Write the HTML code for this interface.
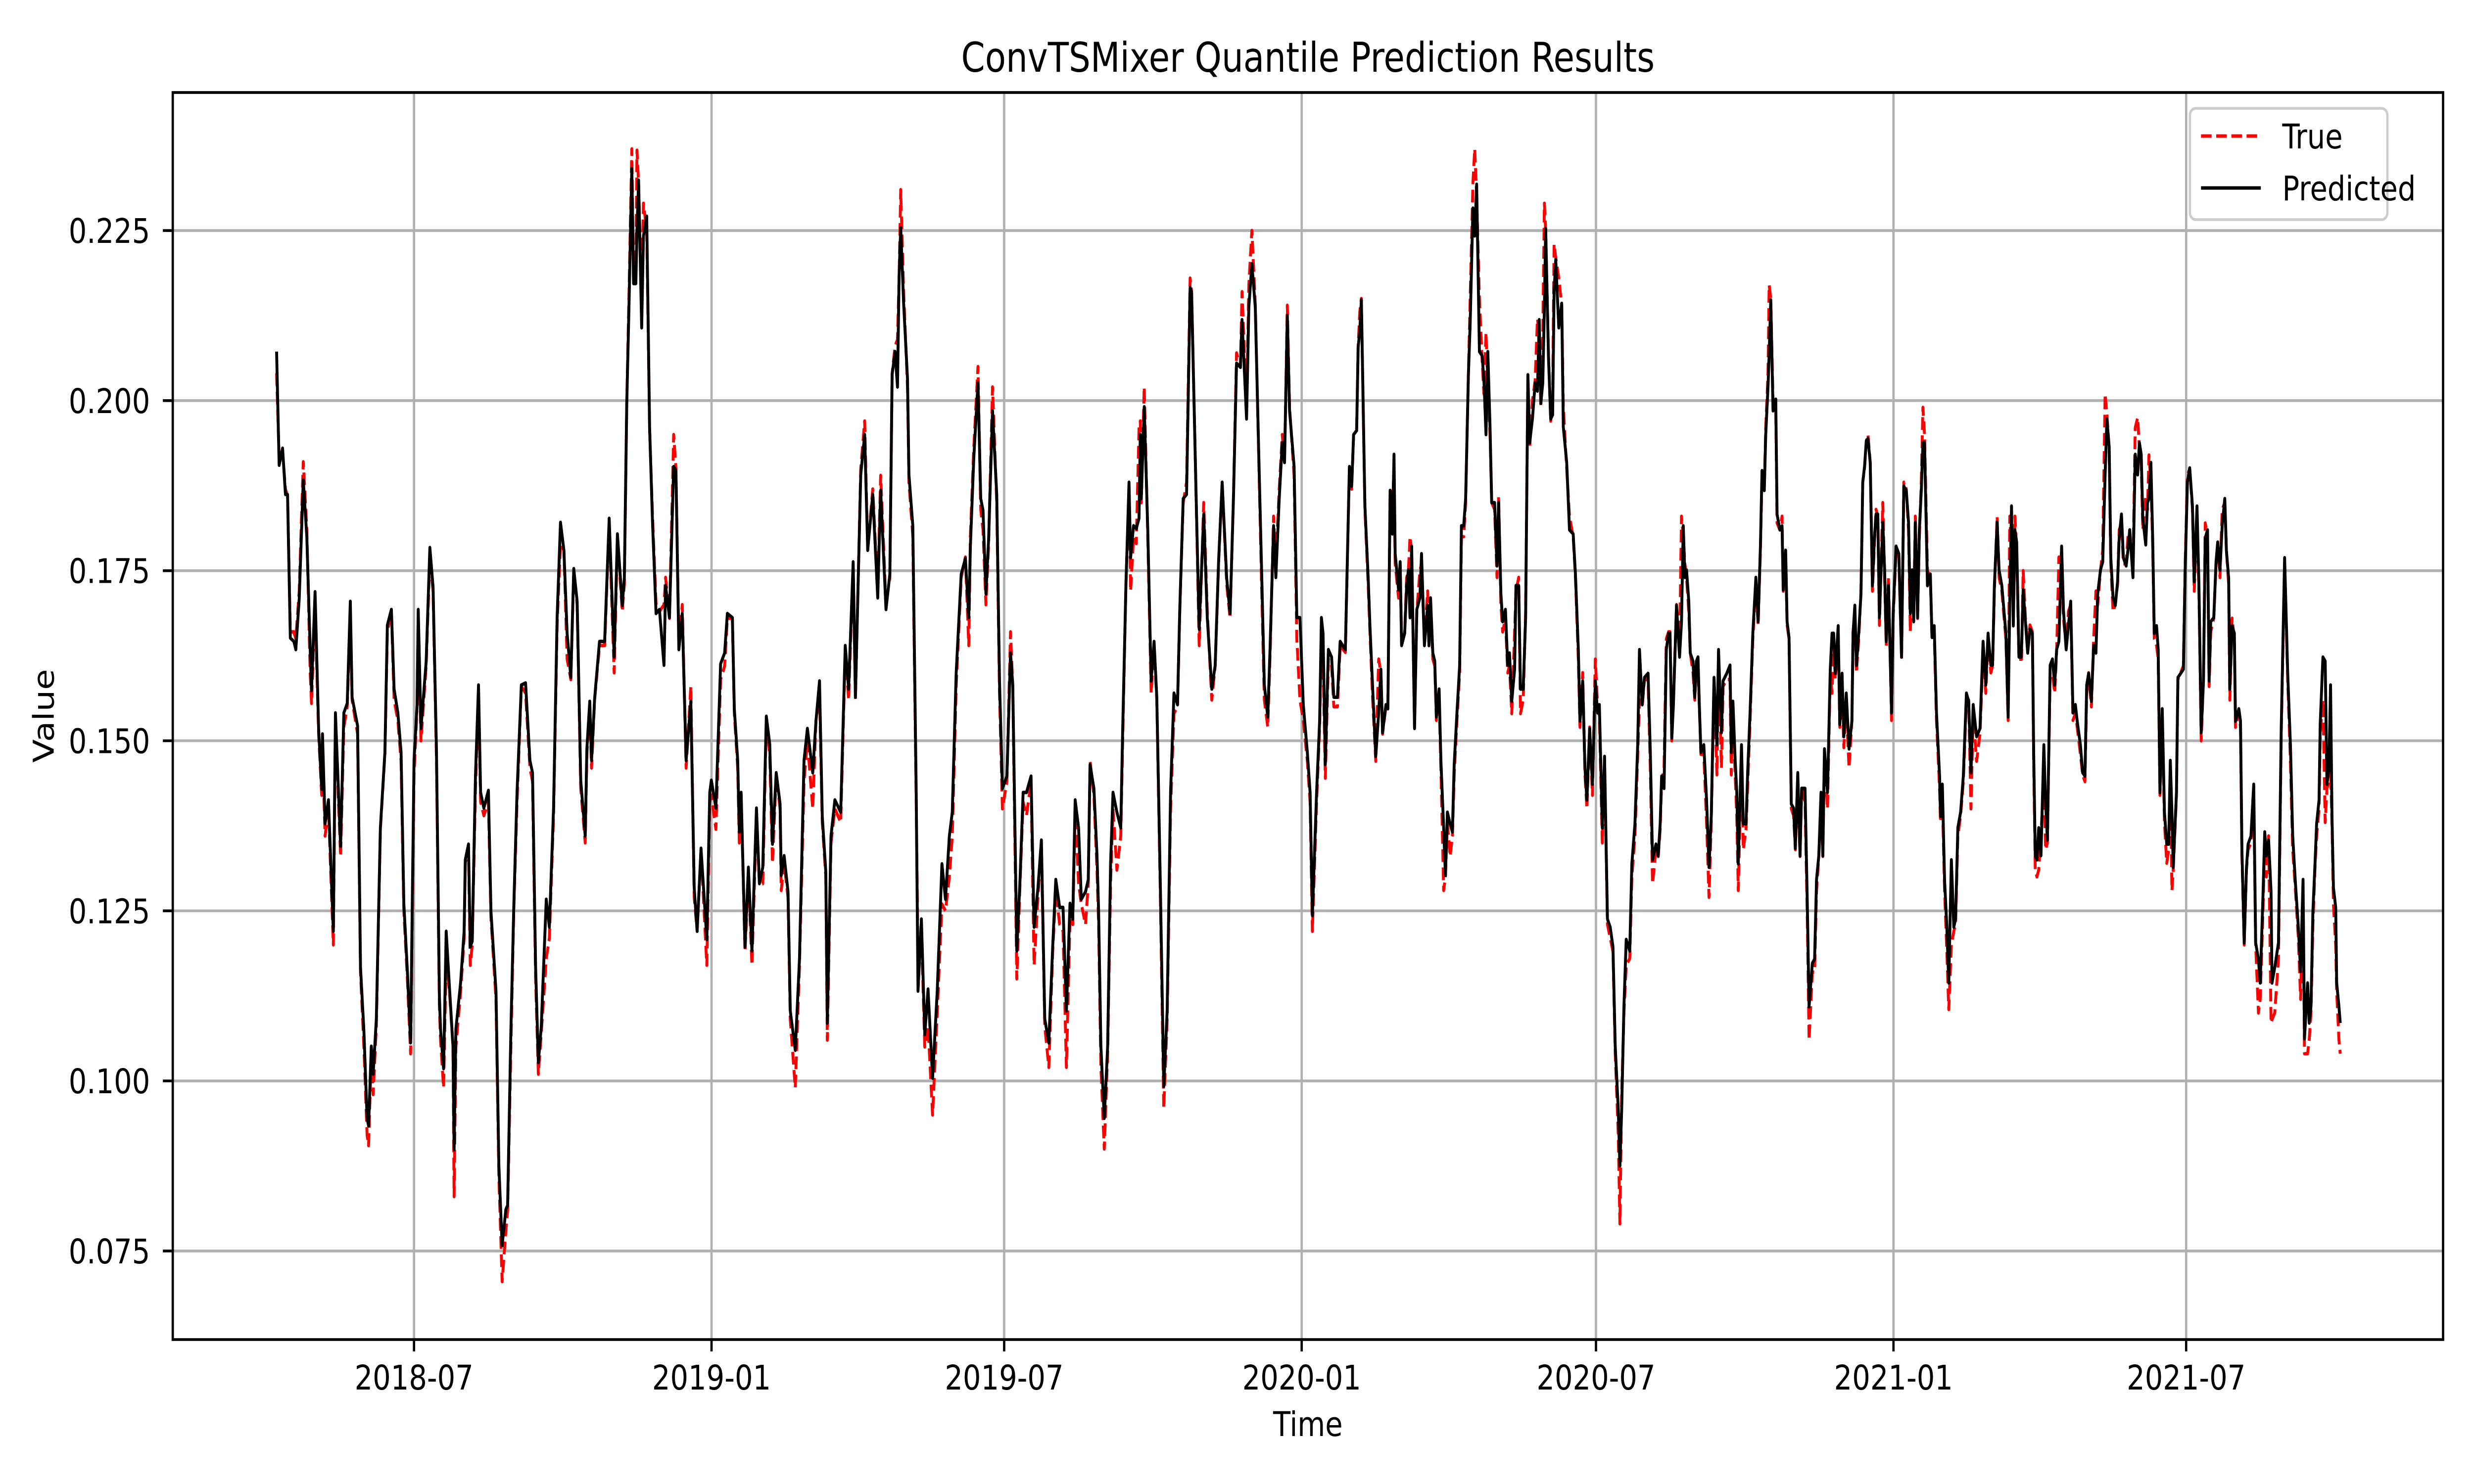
<!DOCTYPE html>
<html><head><meta charset="utf-8">
<style>
html,body{margin:0;padding:0;background:#fff;width:100%;height:100%;overflow:hidden;}
svg{display:block;width:100vw;height:100vh;font-family:"DejaVu Sans","Liberation Sans",sans-serif;}
</style></head>
<body>
<svg id="chart" xmlns="http://www.w3.org/2000/svg" viewBox="0 0 6000 3000" preserveAspectRatio="none">
<rect x="0" y="0" width="6000" height="3000" fill="#fff"/>
<defs><clipPath id="plotclip"><rect x="419" y="187" width="5506" height="2521"/></clipPath></defs>
<g id="grid"></g>
<g id="series" clip-path="url(#plotclip)"></g>
<rect x="419" y="187" width="5506" height="2521" fill="none" stroke="#000" stroke-width="5.6"/>
<g id="ticks"></g>
<text x="3172" y="145" font-size="83" text-anchor="middle">ConvTSMixer Quantile Prediction Results</text>
<text x="3172" y="2903" font-size="69" text-anchor="middle">Time</text>
<text x="0" y="0" font-size="69" text-anchor="middle" transform="translate(130,1447) rotate(-90)">Value</text>
<g>
<rect x="5311" y="219" width="479" height="225" rx="14" fill="#fff" fill-opacity="0.8" stroke="#cccccc" stroke-width="5.6"/>
<line x1="5338" y1="275" x2="5483" y2="275" stroke="#ff0000" stroke-width="7" stroke-dasharray="25.7,11.1"/>
<text x="5535" y="300" font-size="69">True</text>
<line x1="5338" y1="380" x2="5483" y2="380" stroke="#000" stroke-width="7"/>
<text x="5535" y="405" font-size="69">Predicted</text>
</g>
</svg>
<script>
// days offset from 2018-04-07
const startDate = "2018-04-07";
const xTickLabels = ["2018-07","2019-01","2019-07","2020-01","2020-07","2021-01","2021-07"];
const yTickValues = [0.075,0.100,0.125,0.150,0.175,0.200,0.225];

const daysA = [0,1.6,3.7,5.5,6.8,8.5,10.7,11.9,14,16.5,18.7,20.8,21.6,23.8,26,27.9,28.4,30,32.1,35.1,36.4,39.6,41.6,43.7,45.6,46.7,50.1,51.9,54,56,56.9,58.6,59.7,61.7,64.2,67,68.5,71,72.7,75,77,78.7,80.9,82.9,85,86.9,87.6,89.3,92.5,94.8,96.8,98.9,100.7,101.4,103.3,104.9,107,109.1,109.8,110.9,113.8,116,116.7,118.7,119.8,121,123,124.9,126.2,128.2,131,132.6,135.7,137.5,139.5,141.8,142.9,144.9,146.7,148.7,151.4,154,156.7,158.3,160.2,161.9,163.7,166.8,168.7,171.3,173.5,175.6,177.7,179.7,182,183.8,185.9,188.1,190.9,191.9,193.7,194.8,196.7,199.7,202.9,205.7,208.8,210.8,213.8];
const predA = [.2072,.1905,.1930,.1862,.1862,.1651,.1646,.1634,.1709,.1883,.1800,.1634,.1574,.1719,.1518,.1429,.1510,.1378,.1413,.1220,.1541,.1345,.1541,.1555,.1705,.1564,.1522,.1167,.1074,.0945,.0934,.1051,.1010,.1091,.1372,.1483,.1670,.1693,.1576,.1541,.1483,.1261,.1161,.1056,.1471,.1553,.1693,.1518,.1616,.1784,.1726,.1483,.1126,.1076,.1018,.1220,.1135,.1051,.0899,.1076,.1144,.1220,.1325,.1348,.1197,.1205,.1448,.1582,.1424,.1401,.1427,.1249,.1132,.0875,.0758,.0811,.0817,.1074,.1255,.1424,.1582,.1585,.1471,.1453,.1167,.1027,.1080,.1267,.1226,.1401,.1681,.1821,.1780,.1658,.1593,.1753,.1705,.1442,.1360,.1488,.1558,.1471,.1562,.1646,.1646,.1827,.1623,.1804,.1699];
const trueA = [.2040,.1915,.1925,.1870,.1860,.1660,.1660,.1650,.1720,.1910,.1810,.1600,.1555,.1700,.1510,.1420,.1490,.1360,.1400,.1200,.1530,.1330,.1520,.1550,.1680,.1560,.1510,.1160,.1050,.0920,.0905,.1040,.0980,.1080,.1370,.1480,.1660,.1690,.1560,.1530,.1470,.1250,.1150,.1040,.1450,.1550,.1690,.1500,.1610,.1770,.1720,.1470,.1110,.1060,.0990,.1180,.1130,.1050,.0830,.1050,.1130,.1210,.1320,.1340,.1170,.1200,.1430,.1570,.1410,.1390,.1410,.1240,.1120,.0860,.0705,.0780,.0810,.1050,.1250,.1410,.1580,.1570,.1460,.1440,.1150,.1010,.1070,.1180,.1210,.1390,.1670,.1790,.1780,.1620,.1590,.1750,.1700,.1430,.1350,.1480,.1550,.1460,.1560,.1640,.1640,.1820,.1600,.1800,.1690];

const daysB = [215.1,216.6,218,219.7,220.8,222.2,222.9,223.9,225.8,226.9,228.9,230.7,232.5,234.7,236.8,239.6,240.6,243,245.6,247,248.8,250.9,253.3,256.2,258.3,260.1,262.5,266.1,267.9,268.9,271.7,274.6,277.1,278.8,281.9,283.1,285.2,286.2,287.3,289.7,291.8,294,296.8,298.6,300.7,302.9,305,306.7,309,311.4,312.1,313.9,316.3,317.7,320.8,323.4,326.2,328.3,331.6,333.6,335.8,337.5,339.7,340.6,342.9,345.3,348.9,351.7,353.8,356.6,358,361.3,363.7,365.6,368.7,371.8,373.6,376.9,379.3,380.7,382.5,384,385,386,387.8,390.2,391.1,393.5,395.6,396.7,398.8,400.9,402.9,405.7,408.6,411.5,413.7,416.1,417.9,420.3,423.4,426,428.1];
const predB = [.1740,.1997,.2143,.2341,.2172,.2172,.2250,.2324,.2107,.2242,.2271,.1961,.1821,.1687,.1693,.1611,.1728,.1681,.1903,.1897,.1634,.1687,.1471,.1558,.1284,.1220,.1342,.1208,.1424,.1442,.1401,.1613,.1629,.1687,.1681,.1547,.1471,.1366,.1424,.1197,.1314,.1191,.1401,.1290,.1314,.1536,.1495,.1348,.1453,.1407,.1302,.1331,.1278,.1103,.1045,.1179,.1471,.1518,.1453,.1529,.1588,.1389,.1307,.1085,.1360,.1413,.1395,.1640,.1576,.1763,.1564,.1891,.1950,.1780,.1862,.1710,.1868,.1693,.1745,.2038,.2072,.2020,.2183,.2254,.2143,.2032,.1891,.1816,.1424,.1132,.1238,.1068,.1135,.1004,.1132,.1319,.1267,.1360,.1395,.1599,.1745,.1768,.1681];
const trueB = [.1730,.2000,.2160,.2370,.2170,.2200,.2368,.2320,.2150,.2290,.2250,.1960,.1830,.1700,.1690,.1700,.1740,.1680,.1950,.1900,.1640,.1700,.1460,.1580,.1270,.1220,.1340,.1170,.1410,.1420,.1370,.1590,.1610,.1680,.1680,.1540,.1460,.1350,.1420,.1190,.1300,.1170,.1390,.1290,.1290,.1530,.1480,.1320,.1450,.1400,.1280,.1320,.1270,.1090,.0990,.1170,.1440,.1500,.1400,.1530,.1570,.1380,.1300,.1060,.1350,.1400,.1380,.1630,.1560,.1760,.1560,.1900,.1970,.1780,.1870,.1720,.1890,.1700,.1740,.2040,.2080,.2090,.2180,.2310,.2160,.2020,.1880,.1800,.1410,.1180,.1220,.1050,.1080,.0950,.1100,.1260,.1250,.1300,.1360,.1580,.1740,.1770,.1640];

const daysC = [429.1,431.2,433.8,435.5,436.9,438.7,440.4,442.8,445.4,447.1,448.9,451.7,453.9,455.3,457.8,459.8,461.7,463.8,466.6,468.5,470.9,473,475.1,477.6,480,481.9,484.3,486.4,488.5,490.7,492.4,493.9,496,497.7,500.3,502,503.1,505.5,507.4,508.4,509.8,511.9,514,515.8,517.3,519.7,522.1,523.2,525.3,527.2,528.2,530,531.7,533.4,534.2,534.8,536.6,538.8,540.9,542.7,544.4,546.6,548.7,550.8,552.9,555,557.2,558.6,560.7,562.8,565,565.9,568.5,570.6,573.4,575.6,578.4,580.5,582.6,584.8,587.6,589.7,591.8,593.7,596.1,597.1,599.9,601.3,603.2,605.3,607.4,609.5,610.9,613,614.5,616.6,618,620.1,622,623.4,625.1,626.5,629.3,631,632.9,635,637.5,639.2,640.6,643.2];
const predC = [.1786,.1915,.2026,.1856,.1839,.1716,.1798,.1985,.1862,.1588,.1430,.1448,.1629,.1582,.1191,.1296,.1424,.1424,.1448,.1226,.1284,.1354,.1091,.1056,.1197,.1296,.1255,.1255,.1103,.1261,.1238,.1413,.1372,.1267,.1278,.1296,.1465,.1430,.1331,.1249,.1051,.0945,.1051,.1319,.1424,.1395,.1372,.1506,.1728,.1880,.1769,.1816,.1812,.1827,.1950,.1856,.1991,.1810,.1588,.1646,.1564,.1284,.0992,.1103,.1424,.1570,.1553,.1693,.1856,.1862,.2166,.2160,.1880,.1664,.1833,.1681,.1576,.1611,.1763,.1880,.1739,.1687,.1856,.2055,.2049,.2119,.1973,.2137,.2201,.2137,.1926,.1722,.1582,.1535,.1640,.1816,.1740,.1856,.1938,.1909,.2125,.1985,.1903,.1681,.1681,.1553,.1483,.1424,.1243,.1424];
const trueC = [.1800,.1930,.2050,.1840,.1810,.1700,.1790,.2020,.1850,.1570,.1400,.1440,.1660,.1580,.1150,.1290,.1410,.1390,.1440,.1170,.1270,.1350,.1080,.1020,.1190,.1280,.1230,.1220,.1020,.1240,.1230,.1400,.1290,.1260,.1230,.1290,.1470,.1420,.1310,.1230,.1020,.0900,.1040,.1290,.1400,.1310,.1360,.1490,.1730,.1870,.1720,.1800,.1790,.1960,.1970,.1850,.2020,.1800,.1570,.1640,.1560,.1270,.0960,.1090,.1400,.1540,.1550,.1690,.1850,.1880,.2180,.2160,.1880,.1640,.1850,.1690,.1560,.1610,.1760,.1880,.1730,.1680,.1860,.2070,.2050,.2160,.1990,.2170,.2250,.2140,.1920,.1700,.1560,.1520,.1630,.1830,.1760,.1870,.1950,.1910,.2140,.1990,.1890,.1650,.1560,.1530,.1470,.1410,.1220,.1410];

const daysD = [645.1,646.2,647.2,648.6,650.5,652.5,653.9,656.1,657.8,661,663.5,664.9,666.1,668,668.9,669.9,670.9,673.1,675.1,676.2,677.9,679.8,681.6,683,684,686.1,687.3,688.7,690.1,691.1,691.8,693.9,694.9,695.8,697.7,698.9,700,701,702,703.8,705.2,707.1,708.1,709.9,711.9,712.7,713.7,715.1,716.3,717.3,719,720.1,721.8,722.9,724.1,725.8,727.2,728.3,730,731.7,732.8,734.2,735.4,737.1,738.2,739.9,741,742.2,743.9,745.6,746.7,748,749.1,750.5,751.5,753.3,754.8,755.8,757.2,758.3,760,761.4,762.5,763.9,765.7,766.5,768.2,769.3,771,772.5,773.9,775,776.7,778.4,779.8,780.9,781.9,783.1,784.1,784.9,786.6,788,789.2,790.1,791.1,793,794.8,795.8,797.9,799.6,801.9,803.3,805.1,806.1,807.8,809.2,810.4,812.1,813.8,815.6,817,818.1,819.9,821.3,823.1,824.8,826.5,827.9,829.8,830.8,831.9,833.3,834.7,836.9,838.2,840.1,841.8,842.9,844.6,846,848.2,849.6,851,853.1,854.5,855.7,856.6,858.1,859.5,860.9];
const predD = [.1529,.1681,.1658,.1465,.1634,.1623,.1564,.1564,.1646,.1634,.1903,.1874,.1950,.1956,.2078,.2102,.2148,.1845,.1740,.1669,.1576,.1477,.1541,.1605,.1512,.1553,.1547,.1868,.1804,.1921,.1775,.1722,.1763,.1640,.1658,.1728,.1751,.1681,.1786,.1518,.1693,.1710,.1775,.1640,.1699,.1640,.1710,.1629,.1617,.1535,.1576,.1471,.1372,.1302,.1395,.1378,.1366,.1465,.1541,.1611,.1816,.1816,.1856,.2038,.2113,.2283,.2242,.2318,.2072,.2066,.2031,.1950,.2072,.1961,.1850,.1850,.1757,.1850,.1716,.1675,.1693,.1611,.1629,.1558,.1605,.1728,.1728,.1576,.1576,.1681,.2038,.1938,.1973,.2026,.2014,.2119,.1996,.2026,.2137,.2253,.2066,.1973,.1979,.2160,.2207,.2107,.2143,.1961,.1909,.1810,.1804,.1745,.1634,.1529,.1588,.1460,.1413,.1518,.1436,.1588,.1541,.1553,.1372,.1477,.1238,.1226,.1197,.1051,.0957,.0875,.0957,.1109,.1208,.1191,.1319,.1378,.1494,.1634,.1553,.1593,.1599,.1483,.1325,.1348,.1331,.1378,.1448,.1430,.1634,.1658];
const trueD = [.1520,.1660,.1620,.1445,.1620,.1610,.1550,.1550,.1640,.1630,.1900,.1870,.1950,.1960,.2080,.2130,.2150,.1840,.1730,.1660,.1560,.1470,.1620,.1600,.1510,.1550,.1550,.1870,.1840,.1900,.1760,.1710,.1760,.1640,.1660,.1740,.1750,.1800,.1780,.1520,.1690,.1750,.1760,.1650,.1720,.1640,.1700,.1620,.1610,.1530,.1560,.1460,.1280,.1300,.1380,.1330,.1360,.1450,.1530,.1600,.1800,.1800,.1850,.2040,.2150,.2320,.2370,.2300,.2150,.2060,.2010,.2100,.2020,.1950,.1850,.1840,.1740,.1860,.1700,.1660,.1680,.1600,.1610,.1540,.1660,.1720,.1740,.1540,.1560,.1690,.2040,.1930,.2000,.2030,.2120,.2100,.1990,.2100,.2290,.2250,.2070,.1970,.2000,.2230,.2210,.2180,.2140,.1990,.1900,.1830,.1800,.1740,.1620,.1520,.1600,.1450,.1400,.1520,.1420,.1620,.1550,.1540,.1350,.1470,.1230,.1210,.1190,.1040,.0920,.0790,.0980,.1100,.1170,.1180,.1300,.1360,.1480,.1560,.1550,.1590,.1590,.1460,.1290,.1340,.1330,.1370,.1440,.1460,.1650,.1660];

const daysE = [861.8,862.9,863.9,865.8,867.7,868.9,870,871,872,873.4,874.3,876,877.1,878.1,879.1,879.9,880.9,882.7,884.4,885.9,887.3,889,890.8,891.8,893.6,894.6,896.9,898.9,899.7,900.7,902.1,903.1,904,906,907.1,908.8,909.9,911.3,913,914.9,916.3,917.7,918.7,920.1,921,922.4,923.1,924.1,925.5,927.2,928,929.7,931.1,931.8,933.3,934.2,935.4,936.8,938.2,939.3,940.8,942.2,943.2,945.3,946.7,947.8,949.8,951.2,952.4,953.8,955.2,956.3,957.3,959.2,960.9,962,963,964,965.8,966.8,968.2,969.3,970.8,972.5,974.3,975,976.1,977.1,978.5,979.9,981,982.1,983.2,984.2,985.6,987,988.2,989.2,990.3,991.3,993.4,994.5,995.5,996.9,998.8,999.8,1001.6,1003.3,1005,1006.4,1007.9,1009.3,1010.4,1011.5,1012.5,1013.5,1014.9,1016,1017.2,1018.2,1019.2,1021,1022.8,1023.8,1025.2,1026.6,1028.5,1029.1,1030.2,1031.6,1033,1034.2,1035.8,1037.3,1038.4,1039.8,1041.5,1043.2,1045.1,1046.5,1047.9,1049.3,1051.4,1053.5,1055.4,1057.1,1058.5,1060.2,1061.3,1062.4,1064.1,1065.3,1067,1069.5,1070.9,1071.9,1073,1074.1,1075.1,1076.2,1077.6,1079];
const predE = [.1658,.1504,.1553,.1699,.1623,.1675,.1816,.1740,.1751,.1705,.1629,.1617,.1564,.1617,.1623,.1553,.1483,.1494,.1413,.1314,.1389,.1593,.1494,.1634,.1512,.1588,.1599,.1611,.1483,.1558,.1471,.1424,.1319,.1494,.1378,.1378,.1459,.1541,.1658,.1740,.1675,.1786,.1897,.1868,.1950,.2020,.2067,.2148,.1985,.2002,.1833,.1810,.1816,.1722,.1780,.1675,.1652,.1407,.1401,.1342,.1453,.1331,.1430,.1430,.1261,.1109,.1173,.1179,.1296,.1331,.1424,.1331,.1488,.1424,.1605,.1658,.1658,.1599,.1669,.1524,.1599,.1506,.1570,.1488,.1529,.1658,.1699,.1611,.1658,.1716,.1880,.1903,.1941,.1944,.1909,.1728,.1798,.1833,.1833,.1681,.1821,.1751,.1646,.1728,.1541,.1687,.1786,.1775,.1623,.1874,.1868,.1821,.1687,.1751,.1675,.1821,.1681,.1810,.1868,.1938,.1938,.1728,.1745,.1652,.1669,.1541,.1448,.1389,.1436,.1296,.1226,.1144,.1325,.1226,.1238,.1372,.1395,.1448,.1570,.1558,.1453,.1553,.1506,.1518,.1646,.1582,.1658,.1611,.1611,.1728,.1821,.1751,.1728,.1658,.1535,.1700,.1845,.1669,.1810,.1792,.1623,.1623];
const trueE = [.1660,.1500,.1560,.1700,.1640,.1830,.1800,.1760,.1740,.1690,.1630,.1600,.1560,.1610,.1610,.1550,.1480,.1480,.1380,.1270,.1380,.1590,.1450,.1620,.1460,.1580,.1590,.1590,.1450,.1550,.1450,.1390,.1280,.1480,.1340,.1370,.1440,.1530,.1650,.1730,.1670,.1780,.1890,.1870,.1960,.2040,.2170,.2150,.2000,.1990,.1820,.1810,.1830,.1720,.1770,.1670,.1650,.1400,.1390,.1340,.1440,.1330,.1430,.1410,.1240,.1060,.1160,.1160,.1280,.1330,.1400,.1330,.1480,.1400,.1600,.1570,.1650,.1590,.1660,.1520,.1580,.1490,.1550,.1460,.1530,.1660,.1690,.1600,.1650,.1720,.1880,.1900,.1940,.1950,.1910,.1720,.1790,.1840,.1830,.1670,.1850,.1740,.1640,.1740,.1530,.1680,.1780,.1770,.1620,.1880,.1870,.1810,.1660,.1740,.1690,.1830,.1680,.1800,.1880,.1990,.1950,.1750,.1740,.1650,.1660,.1530,.1430,.1380,.1420,.1280,.1190,.1105,.1200,.1220,.1230,.1360,.1390,.1440,.1560,.1560,.1400,.1540,.1470,.1510,.1630,.1570,.1650,.1600,.1610,.1720,.1830,.1740,.1720,.1650,.1530,.1830,.1780,.1700,.1830,.1780,.1620,.1620];

const daysF = [1079.2,1080.2,1081.6,1083,1084.4,1085.9,1086.7,1087.7,1088.7,1089.8,1091.2,1093,1094.1,1095.2,1096.9,1098.3,1099.7,1100.9,1102.3,1104,1105.1,1106.8,1108.2,1109.6,1111,1112.5,1113.6,1115.6,1117,1118.4,1119.5,1120.7,1122.4,1123.8,1125.2,1126.3,1128,1129.4,1130.9,1132,1133.4,1134.4,1135.8,1137.2,1138.6,1139.6,1141,1142.2,1143.9,1145,1146.1,1148.1,1149.5,1151,1152.1,1153.2,1154.2,1156,1157.1,1158,1159.2,1160.3,1161.3,1162.7,1163.7,1164.8,1166.2,1167.6,1169,1170.2,1171.2,1172.2,1173,1175,1175.9,1177.6,1179.3,1180.4,1181.8,1183.2,1184.9,1186,1187.7,1188.9,1190.3,1191.7,1192.8,1194.2,1195.2,1196.2,1198.1,1199.5,1200.5,1201.9,1203.3,1204.9,1205.9,1207.3,1208,1209.4,1210.8,1211.5,1213.6,1214.6,1215.5,1216.9,1218.3,1219.3,1221.1,1222.8,1224,1225.7,1226.8,1228.5,1229.6,1230.6,1232,1233.5,1234.1,1235.8,1238.1,1239.8,1241.9,1243.8,1245.5,1246.9,1248.6,1250.4,1251.8,1253.3,1254.2,1256.1,1257.1,1258.2,1259.4,1260.8,1261.7,1263.2,1263.9,1265.6,1267,1268.1,1269.3,1270.3,1271.2,1272.1,1273.5,1274.1,1275.5,1276.3];
const predF = [.1634,.1722,.1675,.1629,.1664,.1658,.1483,.1331,.1325,.1372,.1331,.1494,.1407,.1354,.1611,.1620,.1582,.1634,.1646,.1786,.1693,.1634,.1669,.1705,.1541,.1553,.1529,.1494,.1453,.1448,.1582,.1599,.1558,.1640,.1629,.1716,.1751,.1763,.1891,.1973,.1932,.1769,.1710,.1699,.1734,.1798,.1833,.1769,.1757,.1780,.1810,.1740,.1921,.1891,.1938,.1921,.1827,.1788,.1850,.1856,.1909,.1798,.1658,.1669,.1634,.1424,.1547,.1395,.1348,.1348,.1471,.1395,.1314,.1424,.1593,.1599,.1605,.1751,.1880,.1901,.1845,.1734,.1845,.1728,.1512,.1588,.1798,.1810,.1588,.1675,.1681,.1763,.1792,.1751,.1816,.1856,.1780,.1739,.1576,.1669,.1658,.1529,.1547,.1529,.1338,.1203,.1314,.1348,.1360,.1436,.1203,.1179,.1144,.1272,.1366,.1331,.1354,.1278,.1144,.1167,.1203,.1518,.1769,.1599,.1494,.1360,.1290,.1226,.1161,.1296,.1062,.1144,.1085,.1109,.1249,.1325,.1378,.1413,.1524,.1623,.1617,.1436,.1459,.1582,.1389,.1284,.1255,.1144,.1109,.1085];
const trueF = [.1620,.1750,.1680,.1640,.1670,.1660,.1470,.1310,.1300,.1310,.1360,.1450,.1340,.1350,.1600,.1600,.1570,.1630,.1770,.1770,.1680,.1640,.1690,.1700,.1530,.1540,.1520,.1480,.1450,.1440,.1570,.1600,.1550,.1650,.1720,.1700,.1750,.1780,.2010,.1980,.1930,.1760,.1690,.1700,.1730,.1810,.1820,.1760,.1760,.1800,.1810,.1750,.1960,.1975,.1930,.1910,.1810,.1860,.1840,.1920,.1880,.1790,.1650,.1640,.1620,.1420,.1540,.1380,.1320,.1340,.1460,.1280,.1310,.1420,.1590,.1600,.1610,.1760,.1890,.1900,.1840,.1720,.1830,.1720,.1500,.1590,.1820,.1800,.1580,.1660,.1680,.1760,.1790,.1740,.1840,.1850,.1780,.1730,.1560,.1680,.1650,.1520,.1540,.1520,.1330,.1200,.1310,.1340,.1350,.1420,.1200,.1100,.1120,.1250,.1360,.1300,.1360,.1085,.1090,.1100,.1180,.1510,.1760,.1590,.1470,.1340,.1280,.1210,.1120,.1280,.1040,.1040,.1060,.1100,.1230,.1320,.1360,.1400,.1510,.1560,.1380,.1430,.1440,.1460,.1380,.1260,.1200,.1130,.1060,.1040];

const NS = "http://www.w3.org/2000/svg";
const PL = 419, PR = 5925, PT = 187, PB = 2708;
const XMIN = -64.2, XMAX = 1339.9, YMIN = 0.06198, YMAX = 0.24529;
const DAYMS = 86400000;
const t0 = Date.parse(startDate + "T00:00:00Z");
function xScale(d){ return PL + (d - XMIN) / (XMAX - XMIN) * (PR - PL); }
function yScale(v){ return PB - (v - YMIN) / (YMAX - YMIN) * (PB - PT); }
function mk(tag, attrs, parent){
  const e = document.createElementNS(NS, tag);
  for (const k in attrs) e.setAttribute(k, attrs[k]);
  parent.appendChild(e);
  return e;
}
const grid = document.getElementById("grid");
const ticks = document.getElementById("ticks");
const series = document.getElementById("series");

xTickLabels.forEach(function(lbl){
  const d = (Date.parse(lbl + "-01T00:00:00Z") - t0) / DAYMS;
  const x = xScale(d);
  const g = mk("line", {x1:x, y1:PT, x2:x, y2:PB, stroke:"#b0b0b0", "stroke-width":5.6}, grid);
  
  
  const t = mk("line", {x1:x, y1:PB, x2:x, y2:PB+24, stroke:"#000", "stroke-width":5.6}, ticks);
  
  
  const tx = mk("text", {x:x, y:2809, "font-size":69, "text-anchor":"middle"}, ticks);
  tx.textContent = lbl;
  
  
});
yTickValues.forEach(function(v){
  const y = yScale(v);
  const g = mk("line", {x1:PL, y1:y, x2:PR, y2:y, stroke:"#b0b0b0", "stroke-width":5.6}, grid);
  
  
  const t = mk("line", {x1:PL-24, y1:y, x2:PL, y2:y, stroke:"#000", "stroke-width":5.6}, ticks);
  
  
  const tx = mk("text", {x:364, y:y+25, "font-size":69, "text-anchor":"end"}, ticks);
  tx.textContent = v.toFixed(3);
  
  
});

const segDays = [daysA, daysB, daysC, daysD, daysE, daysF];
const segTrue = [trueA, trueB, trueC, trueD, trueE, trueF];
const segPred = [predA, predB, predC, predD, predE, predF];
function buildPath(vals){
  const pts = [];
  for (let s = 0; s < segDays.length; s++){
    const n = Math.min(segDays[s].length, vals[s].length);
    for (let i = 0; i < n; i++) pts.push(xScale(segDays[s][i]).toFixed(1) + "," + yScale(vals[s][i]).toFixed(1));
  }
  return "M" + pts.join("L");
}
const truePath = mk("path", {d:buildPath(segTrue), fill:"none", stroke:"#ff0000", "stroke-width":7, "stroke-dasharray":"25.7,11.1", "stroke-linejoin":"round"}, series);


const predPath = mk("path", {d:buildPath(segPred), fill:"none", stroke:"#000000", "stroke-width":7, "stroke-linejoin":"round"}, series);


</script>
</body></html>
